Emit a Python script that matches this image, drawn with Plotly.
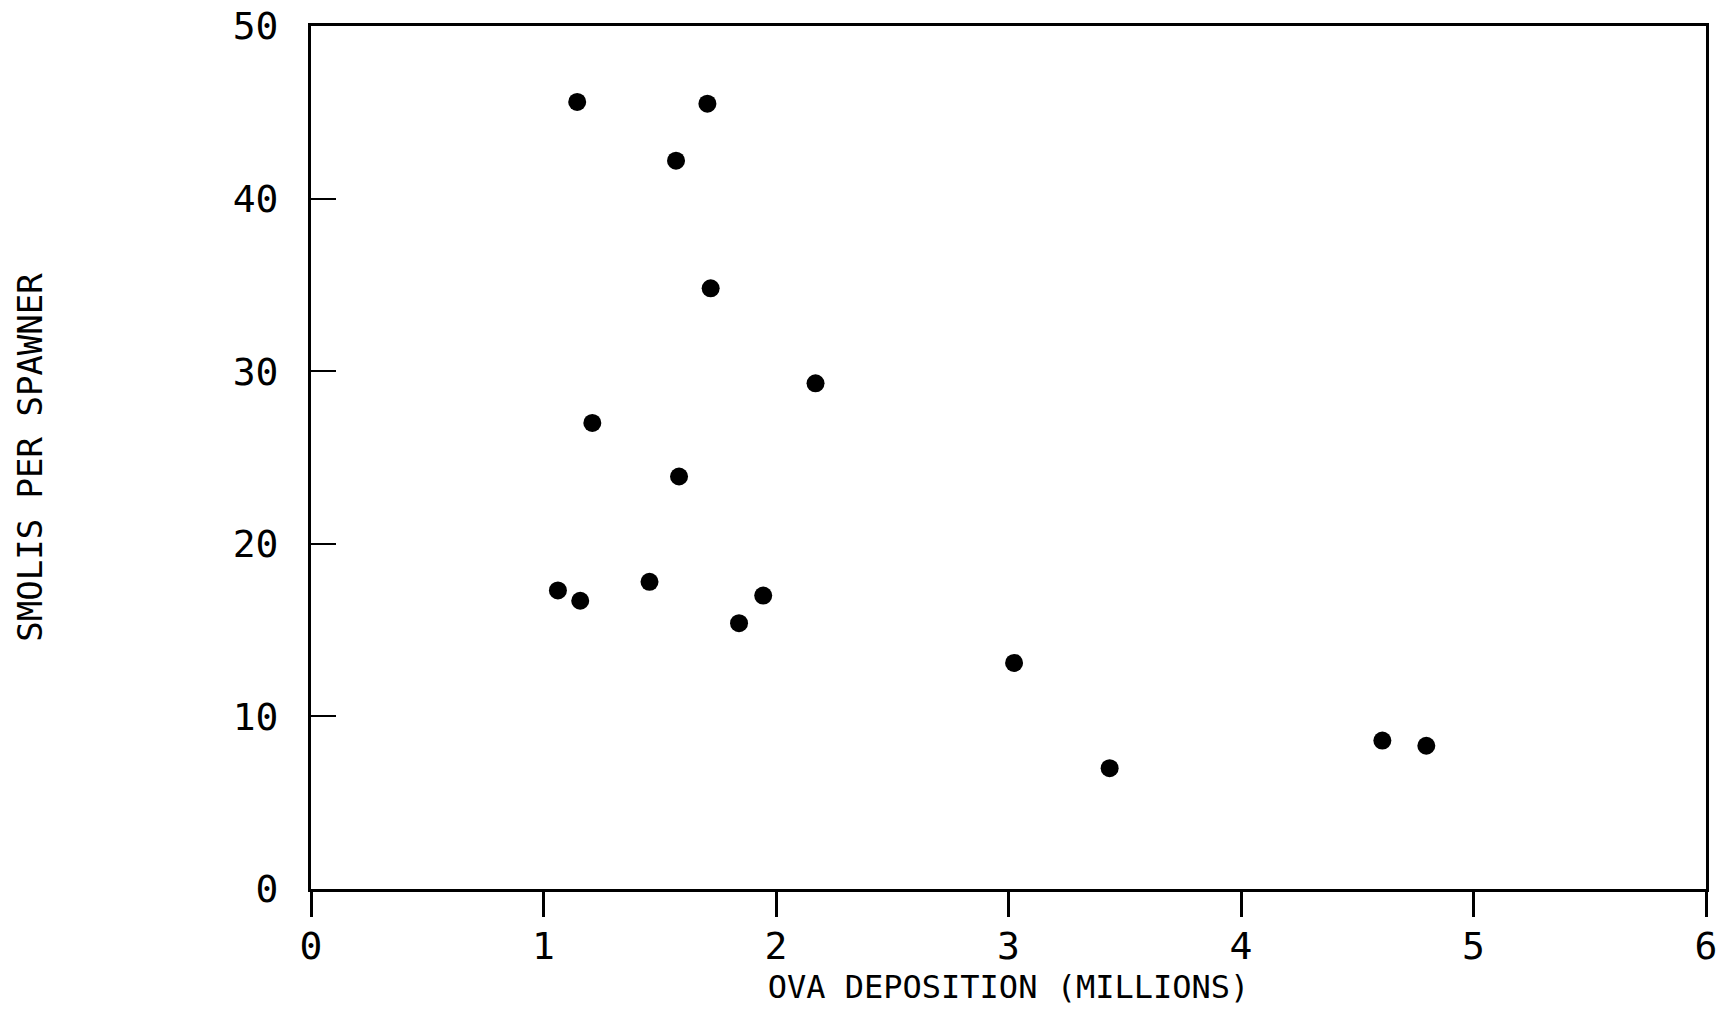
import plotly.graph_objects as go

ova_millions = [1.145, 1.705, 1.570, 1.719, 2.170, 1.210, 1.583, 1.062, 1.158,
                1.456, 1.945, 1.841, 3.024, 3.435, 4.608, 4.797]
smolts_per_spawner = [45.6, 45.5, 42.2, 34.8, 29.3, 27.0, 23.9, 17.3, 16.7,
                      17.8, 17.0, 15.4, 13.1, 7.0, 8.6, 8.3]
x_ticks = [0, 1, 2, 3, 4, 5, 6]
y_ticks = [0, 10, 20, 30, 40, 50]

FONT = "DejaVu Sans Mono"

fig = go.Figure(go.Scatter(
    x=ova_millions, y=smolts_per_spawner, mode="markers",
    marker=dict(size=18, color="black", line=dict(width=0)),
))

fig.update_layout(
    width=1731, height=1012,
    paper_bgcolor="white", plot_bgcolor="white",
    margin=dict(l=311, r=25, t=26, b=123),
    showlegend=False,
    font=dict(family=FONT, color="black"),
)
fig.update_xaxes(
    range=[0, 6], tickvals=x_ticks, ticktext=[str(v) for v in x_ticks],
    showgrid=False, zeroline=False, automargin=False,
    showline=True, linecolor="black", linewidth=3, mirror=True,
    ticks="outside", ticklen=25, tickwidth=3, tickcolor="black",
    tickfont=dict(size=38, family=FONT), ticklabelstandoff=-4,
    title=dict(text="OVA DEPOSITION (MILLIONS)", font=dict(size=32, family=FONT), standoff=8),
)
fig.update_yaxes(
    range=[0, 50], tickvals=y_ticks, ticktext=[str(v) for v in y_ticks],
    showgrid=False, zeroline=False, automargin=False,
    showline=True, linecolor="black", linewidth=3, mirror=True,
    ticks="inside", ticklen=25, tickwidth=2, tickcolor="black",
    tickfont=dict(size=38, family=FONT), ticklabelstandoff=22,
    title=dict(text="SMOLIS PER SPAWNER", font=dict(size=34, family=FONT), standoff=180),
)

fig.write_html("out.html")
